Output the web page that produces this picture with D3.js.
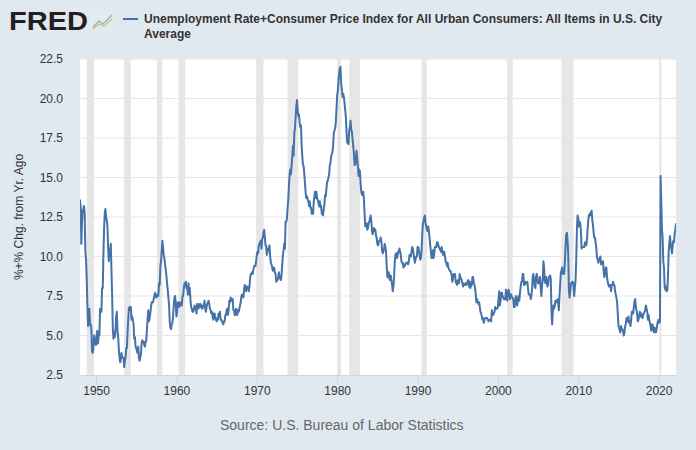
<!DOCTYPE html>
<html>
<head>
<meta charset="utf-8">
<script src="https://cdn.jsdelivr.net/npm/d3@7"></script>
<style>
  html, body { margin: 0; padding: 0; background: #e1e9f0; }
  svg { display: block; font-family: "Liberation Sans", Arial, sans-serif; }
</style>
</head>
<body>
<svg id="chart" width="696" height="450"></svg>
<script>
// ---- Data (monthly, starting Jan 1948) ----
const startYear = 1948;
const values = [
  // 1948
  13.6,13.1,10.8,12.1,12.9,13.0,13.2,12.7,10.3,9.8,8.6,7.0,
  // 1949
  5.6,6.0,6.7,5.7,5.7,5.4,4.0,3.9,4.2,5.0,4.7,4.5,
  // 1950
  4.4,5.1,5.3,4.5,5.1,5.0,6.7,6.6,6.5,8.0,8.0,10.2,
  // 1951
  11.8,12.8,13.0,12.5,12.3,11.9,10.6,9.7,10.3,10.4,10.8,9.1,
  // 1952
  7.5,5.4,4.8,5.2,4.9,5.3,6.2,6.5,5.3,4.9,4.1,3.6,
  // 1953
  3.3,3.5,3.9,3.6,3.6,3.6,3.0,3.4,3.6,4.2,4.2,5.2,
  // 1954
  6.0,6.7,6.8,6.6,6.8,6.0,6.2,6.0,5.7,4.8,4.9,4.3,
  // 1955
  4.2,4.0,3.9,4.3,3.6,3.4,3.6,3.8,4.5,4.7,4.6,4.6,
  // 1956
  4.4,4.3,4.6,4.7,5.4,6.1,6.6,5.9,6.1,6.4,6.8,7.1,
  // 1957
  7.1,7.1,7.3,7.5,7.7,7.5,7.4,7.6,7.6,7.5,8.3,8.2,
  // 1958
  9.4,9.7,10.3,11.0,10.6,10.1,9.9,9.5,9.2,8.8,8.3,7.9,
  // 1959
  7.4,6.9,5.9,5.5,5.4,5.7,5.8,6.2,6.9,7.4,7.5,7.0,
  // 1960
  6.2,6.5,7.1,6.9,6.8,7.1,6.9,7.0,6.9,7.5,7.5,8.0,
  // 1961
  8.3,8.3,8.4,8.0,8.1,7.6,8.3,7.6,8.0,7.2,6.8,6.7,
  // 1962
  6.5,6.5,6.6,6.9,6.8,6.8,6.4,7.0,6.9,6.7,7.0,6.8,
  // 1963
  7.0,6.9,6.7,6.7,6.9,6.9,7.2,6.7,6.5,6.8,7.0,7.1,
  // 1964
  7.2,7.0,6.7,6.6,6.4,6.5,6.2,6.0,6.4,6.4,6.1,6.0,
  // 1965
  5.9,6.1,6.0,6.4,6.2,6.5,6.0,6.0,5.9,5.8,5.7,5.9,
  // 1966
  5.9,6.3,6.3,6.6,6.7,6.3,6.6,7.2,7.1,7.4,7.3,7.2,
  // 1967
  7.3,6.6,6.6,6.3,6.3,6.7,6.6,6.3,6.6,6.5,6.7,6.9,
  // 1968
  7.1,7.5,7.6,7.5,7.4,7.9,8.2,8.0,7.8,8.1,8.1,8.0,
  // 1969
  7.8,8.1,8.6,8.9,8.9,9.0,8.9,9.2,9.4,9.4,9.4,9.7,
  // 1970
  10.1,10.3,10.2,10.7,10.8,10.9,11.0,10.5,11.1,11.2,11.5,11.7,
  // 1971
  11.2,10.7,10.7,10.1,10.3,10.5,10.4,10.7,10.0,9.6,9.5,9.3,
  // 1972
  9.1,9.2,9.3,9.0,8.9,8.4,8.5,8.5,8.7,9.0,8.7,8.6,
  // 1973
  8.5,8.9,9.5,10.1,10.4,10.8,10.5,12.2,12.2,12.4,13.1,13.6,
  // 1974
  14.5,15.2,15.5,15.2,15.8,16.3,17.0,16.4,17.8,18.1,18.8,19.5,
  // 1975
  19.9,19.3,18.9,19.0,18.5,18.2,18.3,17.0,16.3,15.8,15.7,15.2,
  // 1976
  14.6,14.0,13.7,13.8,13.6,13.5,13.2,13.5,13.1,13.1,12.7,12.7,
  // 1977
  12.7,13.5,13.8,14.1,13.7,14.1,13.7,13.6,13.4,13.2,13.5,13.1,
  // 1978
  13.2,12.7,12.7,12.6,13.0,13.3,13.9,13.8,14.3,14.7,14.8,15.0,
  // 1979
  15.2,15.8,15.9,16.3,16.5,16.6,17.0,17.8,18.0,18.1,18.5,19.3,
  // 1980
  20.2,20.5,21.1,21.6,21.9,22.0,20.9,20.6,20.1,20.3,20.1,19.7,
  // 1981
  19.3,18.8,17.9,17.2,17.3,17.1,18.0,18.2,18.6,18.0,17.9,17.4,
  // 1982
  17.0,16.5,15.8,15.8,16.1,16.7,16.2,15.7,15.1,15.5,15.4,14.6,
  // 1983
  14.1,13.9,13.9,14.1,13.6,12.7,11.9,12.1,12.1,11.7,11.8,12.1,
  // 1984
  12.2,12.4,12.6,12.3,11.6,11.4,11.7,11.8,11.6,11.7,11.3,11.2,
  // 1985
  10.8,10.7,10.9,11.0,11.0,11.2,11.0,10.4,10.2,10.3,10.5,10.8,
  // 1986
  10.6,10.3,9.4,8.7,8.7,9.0,8.6,8.5,8.8,8.5,8.2,7.8,
  // 1987
  8.1,8.7,9.6,10.1,10.2,9.9,10.0,10.3,10.3,10.5,10.3,10.1,
  // 1988
  9.7,9.6,9.6,9.3,9.5,9.4,9.5,9.6,9.6,9.6,9.5,9.7,
  // 1989
  10.1,10.0,10.0,10.3,10.6,10.5,10.2,9.9,9.6,9.8,10.0,10.0,
  // 1990
  10.6,10.6,10.4,10.1,9.8,9.9,10.3,11.3,12.1,12.2,12.5,12.6,
  // 1991
  12.1,11.9,11.7,11.6,11.9,11.6,11.2,10.7,10.3,9.9,10.0,10.4,
  // 1992
  9.9,10.2,10.6,10.6,10.6,10.9,10.9,10.7,10.6,10.5,10.4,10.3,
  // 1993
  10.6,10.3,10.1,10.3,10.3,10.0,9.7,9.6,9.4,9.6,9.3,9.2,
  // 1994
  9.1,9.1,9.0,8.8,8.4,8.6,8.9,8.9,8.9,8.4,8.3,8.2,
  // 1995
  8.5,8.3,8.3,8.9,8.7,8.6,8.5,8.3,8.1,8.3,8.2,8.2,
  // 1996
  8.3,8.2,8.3,8.5,8.5,8.1,8.4,8.0,8.2,8.2,8.7,8.7,
  // 1997
  8.3,8.2,8.0,7.6,7.1,7.3,7.1,7.0,7.1,6.8,6.5,6.4,
  // 1998
  6.2,6.0,6.1,5.8,6.0,6.1,6.1,6.1,6.1,6.0,5.9,6.0,
  // 1999
  6.0,6.0,5.9,6.6,6.3,6.3,6.4,6.5,6.8,6.7,6.7,6.7,
  // 2000
  6.8,7.3,7.8,6.9,7.2,7.7,7.7,7.5,7.4,7.3,7.3,7.3,
  // 2001
  7.9,7.7,7.2,7.7,7.9,7.7,7.3,7.6,7.6,7.4,7.4,7.3,
  // 2002
  6.8,6.8,7.2,7.5,7.0,6.9,7.3,7.5,7.2,7.7,8.1,8.4,
  // 2003
  8.4,8.9,8.9,8.2,8.2,8.4,8.3,8.3,8.4,8.0,7.6,7.6,
  // 2004
  7.6,7.3,7.5,7.9,8.7,8.9,8.5,8.1,8.0,8.7,8.9,8.7,
  // 2005
  8.3,8.4,8.3,8.7,8.0,7.5,8.2,8.5,9.7,9.3,8.5,8.3,
  // 2006
  8.7,8.4,8.1,8.2,8.7,8.7,8.8,8.6,6.6,5.7,6.5,6.9,
  // 2007
  6.7,6.9,7.2,7.1,7.1,7.3,7.1,6.6,7.5,8.2,9.0,9.1,
  // 2008
  9.3,8.9,9.1,8.9,9.6,10.6,11.4,11.5,11.0,10.2,7.9,7.4,
  // 2009
  7.8,8.3,8.3,8.4,8.4,8.1,7.5,8.1,8.5,9.8,11.7,12.6,
  // 2010
  12.4,11.9,12.2,12.1,11.6,10.5,10.6,10.6,10.6,10.6,10.9,10.8,
  // 2011
  10.7,11.1,11.7,12.3,12.6,12.7,12.6,12.8,12.9,12.3,12.0,11.5,
  // 2012
  11.2,11.2,10.9,10.5,9.9,9.9,9.6,9.8,9.8,10.0,9.5,9.6,
  // 2013
  9.6,9.7,9.0,8.7,8.9,9.3,9.3,8.7,8.4,8.2,8.1,8.2,
  // 2014
  8.2,7.8,8.2,8.2,8.4,8.2,8.2,7.8,7.6,7.4,7.1,6.4,
  // 2015
  5.6,5.5,5.3,5.2,5.6,5.4,5.4,5.3,5.0,5.2,5.6,5.7,
  // 2016
  6.1,5.9,5.9,6.2,5.8,5.9,5.6,6.0,6.5,6.5,6.4,6.8,
  // 2017
  7.2,7.3,6.8,6.6,6.3,5.9,6.0,6.3,6.5,6.2,6.4,6.2,
  // 2018
  6.1,6.3,6.4,6.5,6.6,6.9,6.7,6.5,6.0,6.3,6.0,5.8,
  // 2019
  5.6,5.3,5.7,5.7,5.4,5.2,5.5,5.3,5.2,5.4,5.7,5.9,
  // 2020
  6.0,5.8,5.9,15.1,13.4,11.7,11.2,9.7,9.3,8.1,7.9,8.1,
  // 2021
  7.8,7.9,8.7,10.3,10.8,11.3,10.8,10.5,10.2,10.7,11.0,10.9,
  // 2022
  11.5,11.7,12.1
];

// Recession periods (NBER, year-month)
const recessionStart = ["1948-11","1953-07","1957-08","1960-04","1969-12","1973-11","1980-01","1981-07","1990-07","2001-03","2007-12","2020-02"];
const recessionEnd   = ["1949-10","1954-05","1958-04","1961-02","1970-11","1975-03","1980-07","1982-11","1991-03","2001-11","2009-06","2020-04"];

const yTicks = [2.5, 5.0, 7.5, 10.0, 12.5, 15.0, 17.5, 20.0, 22.5];
const xTickYears = [1950, 1960, 1970, 1980, 1990, 2000, 2010, 2020];

const titleLine1 = "Unemployment Rate+Consumer Price Index for All Urban Consumers: All Items in U.S. City";
const titleLine2 = "Average";
const yAxisTitle = "%+% Chg. from Yr. Ago";
const sourceText = "Source: U.S. Bureau of Labor Statistics";

// ---- Build ----
const parseYM = d3.timeParse("%Y-%m");
const dates = values.map((v, i) => new Date(startYear + Math.floor(i / 12), i % 12, 1));
const series = values.map((v, i) => ({ date: dates[i], value: v }));

const svg = d3.select("#chart");
const m = { left: 80, right: 676, top: 59, bottom: 375 };

const x = d3.scaleTime()
  .domain([dates[0], dates[dates.length - 1]])
  .range([m.left, m.right]);
const y = d3.scaleLinear().domain([2.5, 22.5]).range([m.bottom, m.top]);

// plot background
svg.append("rect")
  .attr("x", m.left).attr("y", m.top)
  .attr("width", m.right - m.left).attr("height", m.bottom - m.top)
  .attr("fill", "#ffffff");

// clip
svg.append("clipPath").attr("id", "plotclip")
  .append("rect")
  .attr("x", m.left).attr("y", m.top)
  .attr("width", m.right - m.left).attr("height", m.bottom - m.top);

// recession bands
svg.append("g").attr("clip-path", "url(#plotclip)")
  .selectAll("rect")
  .data(recessionStart.map((s, i) => ({ s: parseYM(s), e: parseYM(recessionEnd[i]) })))
  .join("rect")
  .attr("x", d => x(d.s))
  .attr("y", m.top)
  .attr("width", d => Math.max(2, x(d.e) - x(d.s)))
  .attr("height", m.bottom - m.top)
  .attr("fill", "#e6e6e6");

// horizontal gridlines
svg.append("g")
  .selectAll("line")
  .data(yTicks.filter(t => t > 2.5))
  .join("line")
  .attr("x1", m.left).attr("x2", m.right)
  .attr("y1", d => y(d)).attr("y2", d => y(d))
  .attr("stroke", "#e6e6e6").attr("stroke-width", 1);

// x axis
const xAxis = d3.axisBottom(x)
  .tickValues(xTickYears.map(yr => new Date(yr, 0, 1)))
  .tickFormat(d3.timeFormat("%Y"))
  .tickSize(10)
  .tickSizeOuter(0);
const gx = svg.append("g")
  .attr("transform", `translate(0,${m.bottom})`)
  .call(xAxis);
gx.select(".domain").attr("stroke", "#ccd6eb");
gx.selectAll(".tick line").attr("stroke", "#ccd6eb");
gx.selectAll(".tick text")
  .attr("fill", "#333333")
  .attr("font-size", 12)
  .attr("dy", "0.6em")
  .attr("font-family", "Liberation Sans, Arial, sans-serif");

// y axis
const yAxis = d3.axisLeft(y)
  .tickValues(yTicks)
  .tickFormat(d3.format(".1f"))
  .tickSize(0);
const gy = svg.append("g")
  .attr("transform", `translate(${m.left - 14},0)`)
  .call(yAxis);
gy.select(".domain").remove();
gy.selectAll(".tick text")
  .attr("fill", "#333333")
  .attr("font-size", 12)
  .attr("font-family", "Liberation Sans, Arial, sans-serif");

// y axis title
svg.append("text")
  .attr("transform", `translate(23,${(m.top + m.bottom) / 2}) rotate(-90)`)
  .attr("text-anchor", "middle")
  .attr("font-size", 12)
  .attr("fill", "#333333")
  .text(yAxisTitle);

// line
const line = d3.line()
  .x(d => x(d.date))
  .y(d => y(d.value));
svg.append("path")
  .datum(series)
  .attr("clip-path", "url(#plotclip)")
  .attr("fill", "none")
  .attr("stroke", "#4572a7")
  .attr("stroke-width", 2)
  .attr("stroke-linejoin", "round")
  .attr("d", line);

// header: FRED logo
svg.append("text")
  .attr("x", 9).attr("y", 30)
  .attr("font-size", 26)
  .attr("font-weight", "bold")
  .attr("textLength", 79)
  .attr("lengthAdjust", "spacingAndGlyphs")
  .attr("fill", "#231f20")
  .text("FRED");
// small logo icon
const icon = svg.append("g").attr("transform", "translate(91,11)");
icon.append("rect").attr("width", 23).attr("height", 20).attr("rx", 2).attr("fill", "#e4ebef");
icon.append("path").attr("d", "M2,16 L8,10 L12,13 L21,4").attr("fill", "none").attr("stroke", "#9bb7cc").attr("stroke-width", 1.5);
icon.append("path").attr("d", "M2,18 L8,13 L13,15 L21,8").attr("fill", "none").attr("stroke", "#b9c97a").attr("stroke-width", 1.5);

// legend
svg.append("line")
  .attr("x1", 123).attr("x2", 138)
  .attr("y1", 19).attr("y2", 19)
  .attr("stroke", "#4572a7").attr("stroke-width", 2);
svg.append("text")
  .attr("x", 144).attr("y", 23)
  .attr("font-size", 12).attr("font-weight", "bold")
  .attr("fill", "#333333")
  .text(titleLine1);
svg.append("text")
  .attr("x", 144).attr("y", 38)
  .attr("font-size", 12).attr("font-weight", "bold")
  .attr("fill", "#333333")
  .text(titleLine2);

// source
svg.append("text")
  .attr("x", 220).attr("y", 430)
  .attr("font-size", 14)
  .attr("fill", "#666666")
  .text(sourceText);
</script>
</body>
</html>
